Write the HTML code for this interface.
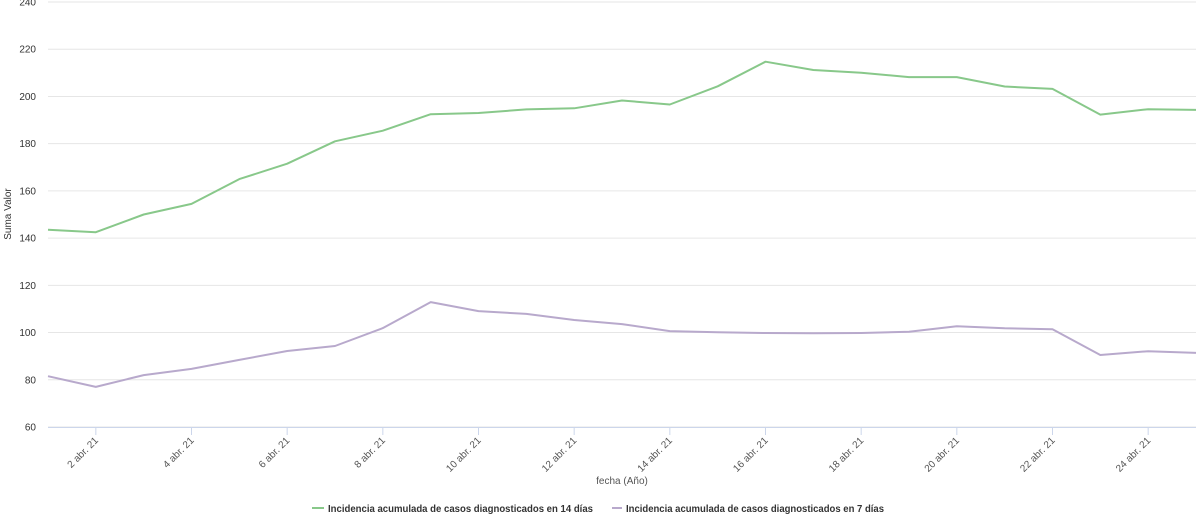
<!DOCTYPE html>
<html><head><meta charset="utf-8"><style>
html,body{margin:0;padding:0;background:#fff;}
svg{display:block;font-family:"Liberation Sans",sans-serif;}
</style></head><body>
<svg id="chart" width="1200" height="524" viewBox="0 0 1200 524">
<g id="grid"></g>
<g id="yaxis"></g>
<g id="xaxis"></g>
<g id="series"></g>
<text x="11" y="214" transform="rotate(-90 11 214)" text-anchor="middle" font-size="10" fill="#333">Suma Valor</text>
<text x="622" y="484" text-anchor="middle" font-size="10" fill="#555">fecha (Año)</text>
<g>
<g>
<line x1="312" y1="508" x2="324" y2="508" stroke="#88c88a" stroke-width="2"/>
<text x="328" y="512" font-size="10" font-weight="bold" fill="#333" textLength="265" lengthAdjust="spacingAndGlyphs">Incidencia acumulada de casos diagnosticados en 14 días</text></g>
<g>
<line x1="612" y1="508" x2="622" y2="508" stroke="#b8a9cc" stroke-width="2"/>
<text x="626" y="512" font-size="10" font-weight="bold" fill="#333" textLength="258" lengthAdjust="spacingAndGlyphs">Incidencia acumulada de casos diagnosticados en 7 días</text></g>
</g>
</svg>
<script>
const days = [1,2,3,4,5,6,7,8,9,10,11,12,13,14,15,16,17,18,19,20,21,22,23,24,25];
const series14 = [143.5,142.5,150,154.5,165,171.5,181,185.5,192.5,193,194.5,195,198.3,196.6,204.3,214.7,211.2,210,208.2,208.2,204.2,203.2,192.3,194.6,194.3];
const series7 = [81.5,77,82,84.6,88.4,92.2,94.3,101.9,112.9,109.1,107.9,105.3,103.6,100.6,100.1,99.8,99.7,99.8,100.3,102.7,101.8,101.4,90.5,92.1,91.4];
const yTicks = [60,80,100,120,140,160,180,200,220,240];
const xTickDays = [2,4,6,8,10,12,14,16,18,20,22,24];
const NS="http://www.w3.org/2000/svg";
const x0=48,x1=1196,y0=427,y1=2;
const xs=d=>x0+(d-1)*(x1-x0)/24;
const ys=v=>y0-(v-60)*(y0-y1)/180;
function mk(t,a,p){const e=document.createElementNS(NS,t);for(const k in a)e.setAttribute(k,a[k]);p.appendChild(e);return e;}
const grid=document.getElementById('grid'),ya=document.getElementById('yaxis'),xa=document.getElementById('xaxis'),sg=document.getElementById('series');
yTicks.forEach(v=>{
  const l=mk('line',{x1:x0,x2:x1,y1:ys(v),y2:ys(v),stroke:'#e6e6e6','stroke-width':1},grid);
  
  
  const t=mk('text',{x:36,y:ys(v)+3.5,'text-anchor':'end','font-size':'10',fill:'#333'},ya);
  t.textContent=v;
  
  
});
const base=mk('line',{x1:x0,x2:x1,y1:y0+0.5,y2:y0+0.5,stroke:'#ccd6eb','stroke-width':1},xa);


xTickDays.forEach(d=>{
  const x=xs(d);
  const tk=mk('line',{x1:x,x2:x,y1:y0,y2:y0+8,stroke:'#ccd6eb'},xa);
  
  
  const t=mk('text',{x:x+3,y:y0+14,'text-anchor':'end','font-size':'10',fill:'#555',transform:`rotate(-45 ${x+3} ${y0+14})`},xa);
  t.textContent=d+' abr. 21';
  
  
});
function line(data,color,name){
  const p=mk('path',{d:data.map((v,i)=>(i?'L':'M')+xs(days[i]).toFixed(1)+' '+ys(v).toFixed(1)).join(' '),fill:'none',stroke:color,'stroke-width':2,'stroke-linejoin':'round'},sg);
  
  
}
line(series14,'#88c88a','line-14-dias');
line(series7,'#b8a9cc','line-7-dias');
</script>
</body></html>
